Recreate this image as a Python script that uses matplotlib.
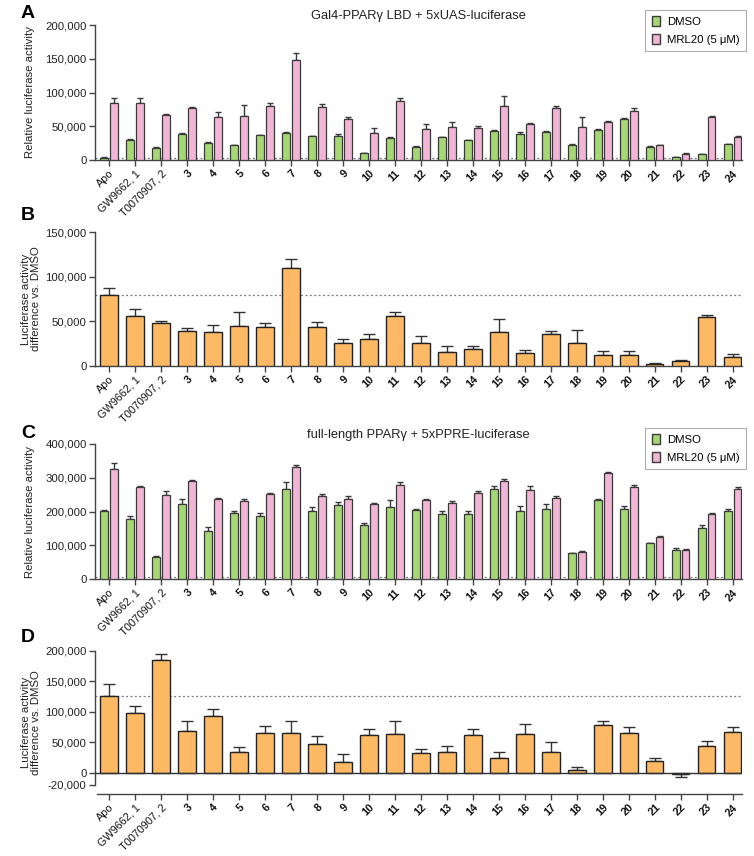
import numpy as np
import matplotlib
matplotlib.use("Agg")
import matplotlib.pyplot as plt
from matplotlib import font_manager as fm
from matplotlib.ticker import FuncFormatter
from matplotlib.patches import Patch

# pick regular-width Liberation Sans (avoid the Narrow variant)
_reg = [f for f in fm.fontManager.ttflist
        if f.name == "Liberation Sans" and "Narrow" not in f.fname]
if _reg:
    fm.fontManager.ttflist = [f for f in fm.fontManager.ttflist
                              if not (f.name.startswith("Liberation Sans") and "Narrow" in f.fname)]
plt.rcParams['font.family'] = ['Liberation Sans', 'DejaVu Sans']

categories = ["Apo", "GW9662, 1", "T0070907, 2"] + [str(i) for i in range(3, 25)]

# Panel A: Gal4-PPARg LBD + 5xUAS-luciferase
a_dmso = [3500, 29600, 18300, 38500, 25700, 21700, 36500, 40500, 35000, 35000, 10500,
          33000, 19800, 33600, 29000, 42500, 39000, 42000, 22700, 44000, 60700, 19800, 4000, 8400, 23200]
a_dmso_err = [300, 1500, 500, 1000, 600, 500, 500, 1000, 700, 3000, 400,
              700, 400, 500, 400, 1500, 3000, 1500, 400, 2000, 1500, 300, 300, 400, 500]
a_mrl = [84000, 85000, 66700, 77500, 63700, 65700, 80000, 148600, 78500, 60700, 40500,
         88000, 45900, 49400, 47900, 80000, 53800, 77500, 48900, 55800, 72600, 21700, 9400, 63200, 33600]
a_mrl_err = [7400, 7000, 1000, 1500, 6900, 15800, 4000, 10400, 5000, 3000, 6500,
             4000, 7400, 6400, 2500, 14300, 1000, 2000, 14800, 2500, 4000, 500, 300, 2000, 2000]
a_ref = 3500

# Panel B: difference vs DMSO (LBD)
b_diff = [79800, 55600, 47800, 39500, 38400, 44400, 43700, 109300, 43700, 25400, 29900,
          56000, 25700, 16000, 19000, 38100, 14200, 35400, 26100, 12300, 11900, 2200, 5200, 54500, 10100]
b_err = [7100, 7800, 2600, 3400, 7100, 16000, 4400, 10800, 5600, 4800, 6300,
         4400, 7900, 6400, 3000, 14500, 3300, 3400, 14600, 4100, 4500, 1200, 1100, 2600, 3000]
b_ref = 79500

# Panel C: full-length PPARg + 5xPPRE-luciferase
c_dmso = [200500, 176800, 66200, 221200, 143200, 196500, 186700, 266700, 200500, 220200, 160000,
          214300, 203500, 191600, 191600, 265700, 201500, 206400, 77000, 234000, 206400, 105700, 86900, 150100, 200500]
c_dmso_err = [5000, 10800, 1500, 14800, 9900, 5000, 9800, 19700, 12800, 7900, 6900,
              20700, 4000, 10900, 10900, 8900, 13800, 15800, 1500, 2000, 8900, 2000, 4000, 8900, 5900]
c_mrl = [325000, 273600, 249900, 289400, 237000, 230100, 251900, 332800, 246900, 238000, 221200,
         279500, 234000, 226200, 253800, 289400, 264700, 240000, 81000, 314100, 271600, 124400, 84900, 193600, 267700]
c_mrl_err = [18700, 2000, 9900, 4000, 3000, 5900, 4000, 5900, 4000, 8900, 4900,
             7900, 4000, 4000, 5900, 5900, 9900, 5900, 2000, 3000, 5900, 4000, 3000, 2000, 4900]
c_ref = 7000

# Panel D: difference vs DMSO (full length)
d_diff = [126000, 97500, 185200, 69000, 93700, 33400, 65200, 65800, 47700, 17000, 61400,
          64100, 32900, 34000, 61400, 23600, 63600, 34000, 4400, 78900, 65200, 19700, -1600, 43800, 66300]
d_err = [19800, 11500, 9300, 15400, 11000, 9300, 11000, 19700, 12600, 14200, 9800,
         21400, 6000, 10400, 10900, 10400, 16900, 17000, 4900, 5500, 10400, 3900, 5000, 8300, 8200]
d_ref = 126000

green = "#a5d872"
pink = "#f2b5d6"
orange = "#fdb964"
edge = "#3a3a3a"
axcol = "#444444"

W, H = 754, 856
fig = plt.figure(figsize=(W / 100, H / 100), dpi=100)

def fx(px):
    return px / W

def fy(px):
    return 1 - px / H

left_px, right_px = 95, 742

def make_ax(top_px, bottom_px):
    return fig.add_axes([fx(left_px), fy(bottom_px), fx(right_px - left_px), (bottom_px - top_px) / H])

x = np.arange(len(categories))
fmt = FuncFormatter(lambda v, p: f"{int(v):,}")

def style(ax, ymax, yticks, ymin=0):
    ax.set_xlim(-0.54, len(categories) - 1 + 0.35)
    ax.set_ylim(ymin, ymax)
    ax.set_yticks(yticks)
    ax.yaxis.set_major_formatter(fmt)
    for s in ["top", "right"]:
        ax.spines[s].set_visible(False)
    for s in ["left", "bottom"]:
        ax.spines[s].set_color(axcol)
        ax.spines[s].set_linewidth(1.0)
    ax.tick_params(axis="y", labelsize=8.2, colors=axcol, labelcolor="#222222", length=4, width=1, pad=2)
    ax.tick_params(axis="x", colors=axcol, length=4, width=1, labelcolor="#111111", pad=2)
    ax.set_xticks(x)
    ax.set_xticklabels(categories, rotation=45, ha="right", rotation_mode="anchor", fontsize=7.8)
    for i, t in enumerate(ax.get_xticklabels()):
        if i >= 3:
            t.set_fontweight("bold")

def grouped(ax, d, de, m, me):
    w = 0.28
    off = 0.19
    ax.bar(x - off, d, w, color=green, edgecolor=edge, linewidth=0.9, zorder=3)
    ax.bar(x + off, m, w, color=pink, edgecolor=edge, linewidth=0.9, zorder=3)
    ax.errorbar(x - off, d, yerr=[np.zeros(len(d)), de], fmt="none", ecolor=edge,
                elinewidth=1.0, capsize=2.2, capthick=1.0, zorder=2)
    ax.errorbar(x + off, m, yerr=[np.zeros(len(m)), me], fmt="none", ecolor=edge,
                elinewidth=1.0, capsize=2.2, capthick=1.0, zorder=2)

def single(ax, v, e):
    v = np.array(v, dtype=float)
    e = np.array(e, dtype=float)
    ax.bar(x, v, 0.66, color=orange, edgecolor="#222222", linewidth=1.0, zorder=3)
    lo = np.where(v < 0, e, 0)
    hi = np.where(v >= 0, e, 0)
    ax.errorbar(x, v, yerr=[lo, hi], fmt="none", ecolor="#333333",
                elinewidth=1.0, capsize=4.5, capthick=1.0, zorder=2)

def legend(ax, top_px):
    handles = [Patch(facecolor=green, edgecolor=edge, label="DMSO"),
               Patch(facecolor=pink, edgecolor=edge, label="MRL20 (5 μM)")]
    lg = fig.legend(handles=handles, loc="upper right",
                    bbox_to_anchor=(fx(746), fy(top_px)),
                    fontsize=8.2, frameon=True, fancybox=False, handlelength=0.75,
                    handleheight=1.0, handletextpad=0.6, borderpad=0.55, labelspacing=0.6,
                    borderaxespad=0)
    lg.get_frame().set_edgecolor("#999999")
    lg.get_frame().set_linewidth(0.8)

def ylabel(ax, text, xpx):
    ax.yaxis.set_label_coords((xpx - left_px) / (right_px - left_px), 0.5)
    ax.set_ylabel(text, fontsize=8.2, color="#222222", linespacing=1.05, va="center")

def letter(text, xpx, ypx):
    fig.text(fx(xpx), fy(ypx), text, fontsize=14, fontweight="bold", ha="left", va="center")

# Panel A
axA = make_ax(25, 160)
grouped(axA, a_dmso, a_dmso_err, a_mrl, a_mrl_err)
style(axA, 200000, [0, 50000, 100000, 150000, 200000])
axA.axhline(a_ref, color="#777777", linestyle=(0, (1.5, 2)), linewidth=0.9, zorder=1)
axA.set_title("Gal4-PPARγ LBD + 5xUAS-luciferase", fontsize=9.3, pad=4, color="#222222")
ylabel(axA, "Relative luciferase activity", 30)
legend(axA, 10)
letter("A", 21, 14)

# Panel B
axB = make_ax(232, 366)
single(axB, b_diff, b_err)
style(axB, 150000, [0, 50000, 100000, 150000])
axB.axhline(b_ref, color="#777777", linestyle=(0, (1.5, 2)), linewidth=0.9, zorder=1)
ylabel(axB, "Luciferase activity\ndifference vs. DMSO", 31)
letter("B", 21, 216)

# Panel C
axC = make_ax(444, 579)
grouped(axC, c_dmso, c_dmso_err, c_mrl, c_mrl_err)
style(axC, 400000, [0, 100000, 200000, 300000, 400000])
axC.axhline(c_ref, color="#777777", linestyle=(0, (1.5, 2)), linewidth=0.9, zorder=1)
axC.set_title("full-length PPARγ + 5xPPRE-luciferase", fontsize=9.3, pad=4, color="#222222")
ylabel(axC, "Relative luciferase activity", 30)
legend(axC, 428)
letter("C", 21, 433)

# Panel D
axD = make_ax(651, 794)
single(axD, d_diff, d_err)
style(axD, 200000, [-20000, 0, 50000, 100000, 150000, 200000], ymin=-35000)
axD.spines["left"].set_bounds(-20000, 200000)
axD.spines["bottom"].set_bounds(-0.45, len(categories) - 1 + 0.35)
axD.axhline(0, color="#333333", linewidth=1.0, zorder=4)
axD.axhline(d_ref, color="#777777", linestyle=(0, (1.5, 2)), linewidth=0.9, zorder=1)
ylabel(axD, "Luciferase activity\ndifference vs. DMSO", 31)
letter("D", 21, 638)

fig.savefig("out.png", dpi=100)
